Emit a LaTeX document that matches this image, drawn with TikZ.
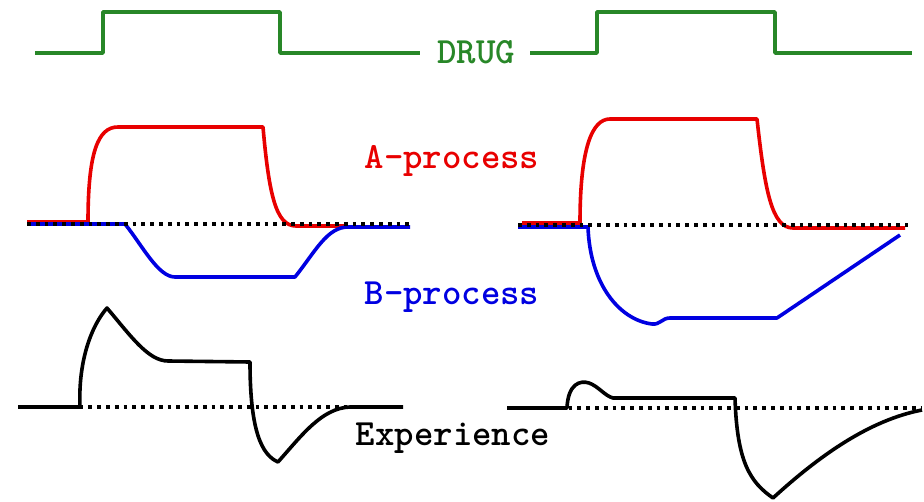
\documentclass[tikz,border=0pt]{standalone}
\usepackage{fontspec}
\definecolor{drugcol}{RGB}{40,135,40}
\definecolor{acol}{RGB}{232,0,0}
\definecolor{bcol}{RGB}{0,0,225}
\tikzset{
  trace/.style={line width=3.6pt, line join=round, line cap=butt},
  zeroline/.style={line width=3.8pt, dash pattern=on 3.8pt off 5pt, black},
  lbl/.style={font=\ttfamily\bfseries\fontsize{37}{37}\selectfont, inner sep=0pt}
}
\begin{document}
\begin{tikzpicture}[x=1pt, y=-1pt]
  \useasboundingbox (0,0) rectangle (924,502);

  % drug administration pulses
  \draw[trace, drugcol] (35,53) -- (103,53) -- (103,12) -- (280,12) -- (280,53) -- (420,53);
  \draw[trace, drugcol] (530,53) -- (597,53) -- (597,12) -- (775,12) -- (775,53) -- (912,53);
  \node[lbl, text=drugcol] (drug) at (476,52) {DRUG};

  % first pulse: A- and B-processes
  \draw[trace, acol] (27,222) -- (88,222)
     .. controls (88,152) and (98,127) .. (118,127) -- (263,127)
     .. controls (269,195) and (276,226) .. (296,226) -- (345,226);
  \draw[trace, bcol] (27,224) -- (125,224)
     .. controls (142,245) and (158,277) .. (175,277) -- (295,277)
     .. controls (315,252) and (327,227) .. (348,227) -- (410,227);
  \draw[zeroline] (27,224) -- (410,224);

  % second pulse: A- and B-processes after tolerance
  \draw[trace, acol] (522,223) -- (580,223)
     .. controls (580,148) and (592,119) .. (610,119) -- (757,119)
     .. controls (765,192) and (772,228) .. (793,228) -- (905,228);
  \draw[trace, bcol] (518,227) -- (588,227)
     .. controls (590,285) and (620,320) .. (652,324)
     .. controls (660,325) and (662,318) .. (670,318) -- (777,318) -- (900,235);
  \draw[zeroline] (518,225) -- (908,225);

  \node[lbl, text=acol] (aproc) at (452,161) {A-process};
  \node[lbl, text=bcol] (bproc) at (452,297) {B-process};

  % resulting experience
  \draw[trace, black] (18,407) -- (80,407)
     .. controls (78,360) and (92,325) .. (107,308)
     .. controls (130,335) and (148,361) .. (168,361) -- (250,362)
     .. controls (250,432) and (262,455) .. (278,462)
     .. controls (302,435) and (322,408) .. (350,407) -- (403,407);
  \draw[zeroline] (18,407) -- (403,407);

  \draw[trace, black] (507,408) -- (567,408)
     .. controls (568,384) and (580,380) .. (589,383)
     .. controls (598,386) and (605,396) .. (613,398) -- (735,398)
     .. controls (737,462) and (750,482) .. (773,498)
     .. controls (820,455) and (870,420) .. (922,410);
  \draw[zeroline] (507,408) -- (922,408);

  \node[lbl, text=black] (exper) at (453,438) {Experience};
\end{tikzpicture}
\end{document}
